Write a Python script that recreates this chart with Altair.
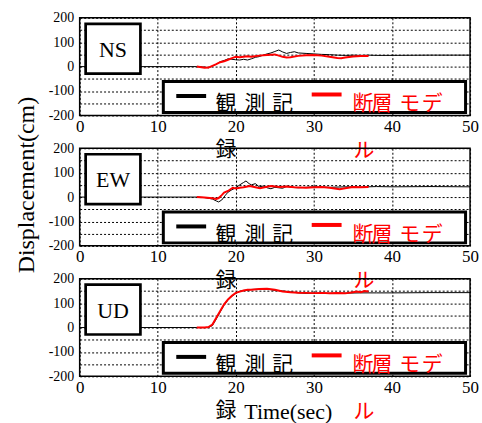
import altair as alt
import pandas as pd

components = ["NS", "EW", "UD"]
obs_label = "観測記録"
model_label = "断層モデル"
x_title = "Time(sec)"
y_title = "Displacement(cm)"
x_ticks = [0, 10, 20, 30, 40, 50]
y_ticks = [-200, -150, -100, -50, 0, 50, 100, 150, 200]

# NS
ns_obs_t = [0, 15, 16, 16.5, 17, 17.5, 18, 18.5, 19, 19.5, 20, 20.5, 21, 21.5, 22, 22.5, 23, 23.5, 24, 24.5,
            25, 25.5, 26, 26.5, 27, 27.5, 28, 29, 30, 31, 32, 33, 34, 35, 36, 37, 38, 40, 45, 50]
ns_obs_v = [0, 0, -2, -5, 2, 10, 20, 25, 32, 30, 28, 27, 30, 27, 32, 38, 41, 47, 52, 56,
            62, 68, 60, 54, 58, 61, 56, 54, 52, 50, 49, 47, 46, 47, 46, 47, 46, 46, 47, 47]
ns_mod_t = [15, 16, 16.5, 17, 17.5, 18, 18.5, 19, 19.5, 20, 20.5, 21, 21.5, 22, 23, 24, 25, 25.5, 26, 26.5,
            27, 28, 29, 30, 31, 32, 33, 33.5, 34, 35, 36, 37]
ns_mod_v = [0, -5, -4, 3, 10, 18, 22, 28, 35, 40, 38, 40, 42, 40, 45, 48, 50, 45, 40, 37,
            38, 44, 47, 48, 45, 40, 35, 34, 37, 41, 43, 43]

# EW
ew_obs_t = [0, 15, 16, 17, 17.5, 17.8, 18.2, 18.6, 19, 19.5, 20, 20.5, 21, 21.3, 21.7, 22, 22.5, 23, 23.5, 24,
            24.5, 25, 26, 26.5, 27, 28, 29, 30, 32, 34, 36, 38, 40, 45, 50]
ew_obs_v = [0, 0, -2, -8, -16, -20, -12, 5, 20, 30, 38, 50, 60, 66, 55, 50, 55, 42, 45, 38,
            34, 40, 36, 44, 40, 38, 40, 42, 40, 42, 41, 43, 42, 43, 42]
ew_mod_t = [15, 16, 17, 17.5, 17.8, 18.2, 18.5, 19, 19.6, 20, 20.5, 21, 21.8, 22.5, 23.1, 24, 24.5, 25.6, 26.5, 27.5,
            29, 30, 31, 32, 33.3, 34, 35, 36, 37]
ew_mod_v = [0, -2, -5, -8, -4, 8, 18, 25, 38, 35, 38, 40, 45, 40, 36, 42, 45, 41, 43, 40,
            38, 40, 41, 38, 32, 36, 41, 40, 41]

# UD
ud_obs_t = [0, 15, 16, 16.5, 17, 17.5, 18, 18.5, 19, 19.5, 20, 20.5, 21, 21.5, 22, 23, 24, 25, 26, 27,
            28, 29, 30, 32, 34, 36, 38, 40, 45, 50]
ud_obs_v = [0, 0, 0, 0, 8, 35, 64, 92, 113, 128, 140, 148, 152, 152, 156, 157, 158, 152, 150, 146,
            142, 140, 141, 140, 141, 142, 142, 142, 143, 143]
ud_mod_t = [15, 16, 16.5, 17, 17.5, 18, 18.5, 19, 19.5, 20, 20.5, 21, 21.5, 22, 23, 24, 25, 26, 27, 28,
            29, 30, 31, 32, 33, 34, 35, 35.5, 36, 36.5, 37]
ud_mod_v = [0, 0, 2, 12, 40, 68, 95, 115, 130, 142, 147, 152, 155, 155, 158, 159, 155, 148, 145, 143,
            142, 141, 142, 140, 141, 140, 145, 148, 145, 150, 148]

SERIF = "Liberation Serif"
CJK = "Noto Sans CJK JP"
RED = "#ff0000"
W, H = 392, 98
LEFT, TOP = 79, 16          # plot origin within the 482x423 page
PAGE_W, PAGE_H = 482, 423
one = pd.DataFrame({"k": [0]})

# horizontal placement (px, relative to plot left) of each legend glyph
obs_char_x = [147, 176, 204]
model_char_x = [284.5, 303.5, 331.5, 354]


def corner(x, y):
    # 1px white anchors fixing the page bounds
    return alt.Chart(one).mark_rect(fill="white", strokeWidth=0).encode(
        x=alt.value(x), x2=alt.value(x + 1), y=alt.value(y), y2=alt.value(y + 1))


def glyph(ch, x, y, color):
    return alt.Chart(one).mark_text(text=ch, font=CJK, fontSize=21, color=color,
                                    align="center", baseline="middle").encode(
        x=alt.value(x), y=alt.value(y))


def panel(idx, name, ot, ov, mt, mv):
    xaxis = dict(values=x_ticks, grid=True, gridColor="black", gridDash=[2, 2], gridWidth=1,
                 ticks=False, domain=False, labelFont=SERIF, labelFontSize=17, labelColor="black",
                 labelPadding=3, labelFlush=False, labelOverlap=False)
    if idx == 2:
        xaxis.update(title=x_title, titleFont=SERIF, titleFontSize=22, titleFontWeight="normal",
                     titleColor="black", titleX=209, titleY=42, titleAlign="center",
                     titleBaseline="alphabetic")
    else:
        xaxis["title"] = None
    yaxis = dict(values=y_ticks, grid=True, gridColor="black", gridDash=[2, 2], gridWidth=1,
                 ticks=False, domain=False, labelFont=SERIF, labelFontSize=14, labelColor="black",
                 labelPadding=6, labelOverlap=False, labelFlush=False,
                 labelExpr="datum.value % 100 === 0 ? '' + datum.value : ''")
    if idx == 1:
        yaxis.update(title=y_title, titleFont=SERIF, titleFontSize=24, titleFontWeight="normal",
                     titleColor="black", titleX=-46.5, titleY=36.5, titleAngle=270,
                     titleAlign="center", titleBaseline="alphabetic")
    else:
        yaxis["title"] = None

    xs = alt.Scale(domain=[0, 50], nice=False, zero=False)
    ys = alt.Scale(domain=[-200, 200], nice=False)

    obs = alt.Chart(pd.DataFrame({"t": ot, "v": ov})).mark_line(color="black", strokeWidth=1).encode(
        x=alt.X("t:Q", scale=xs, axis=alt.Axis(**xaxis)),
        y=alt.Y("v:Q", scale=ys, axis=alt.Axis(**yaxis)),
    )
    mod = alt.Chart(pd.DataFrame({"t": mt, "v": mv})).mark_line(color=RED, strokeWidth=2).encode(
        x=alt.X("t:Q", scale=xs, axis=alt.Axis(**xaxis)),
        y=alt.Y("v:Q", scale=ys, axis=alt.Axis(**yaxis)),
    )
    box = alt.Chart(one).mark_rect(fill="white", stroke="black", strokeWidth=2.7).encode(
        x=alt.value(6), x2=alt.value(61), y=alt.value(6), y2=alt.value(56))
    boxtext = alt.Chart(one).mark_text(text=name, font=SERIF, fontSize=22, color="black",
                                       align="center", baseline="middle").encode(
        x=alt.value(33.5), y=alt.value(32))
    legbox = alt.Chart(one).mark_rect(fill="white", stroke="black", strokeWidth=3).encode(
        x=alt.value(84), x2=alt.value(387.5), y=alt.value(64), y2=alt.value(95))
    l1 = alt.Chart(one).mark_rule(color="black", strokeWidth=4).encode(
        x=alt.value(97), x2=alt.value(127), y=alt.value(78.5))
    l2 = alt.Chart(one).mark_rule(color=RED, strokeWidth=4).encode(
        x=alt.value(233), x2=alt.value(263), y=alt.value(77))
    layers = [obs, mod, box, boxtext, legbox, l1, l2]
    for ch, x in zip(obs_label[:-1], obs_char_x):
        layers.append(glyph(ch, x, 87, "black"))
    for ch, x in zip(model_label[:-1], model_char_x):
        layers.append(glyph(ch, x, 87, RED))
    # last characters wrap onto the next line, below the panel
    layers.append(glyph(obs_label[-1], obs_char_x[0], 133, "black"))
    layers.append(glyph(model_label[-1], model_char_x[0] + 1, 133.5, RED))
    if idx == 0:
        layers += [corner(-LEFT, -TOP), corner(PAGE_W - LEFT - 1, PAGE_H - TOP - 1)]
    return alt.layer(*layers).properties(width=W, height=H)


series = [
    (ns_obs_t, ns_obs_v, ns_mod_t, ns_mod_v),
    (ew_obs_t, ew_obs_v, ew_mod_t, ew_mod_v),
    (ud_obs_t, ud_obs_v, ud_mod_t, ud_mod_v),
]
panels = [panel(i, components[i], *series[i]) for i in range(3)]

chart = alt.vconcat(*panels, spacing=33, bounds="flush").properties(
    padding=0,
    background="white",
).configure_view(stroke="black", strokeWidth=1.5)

chart.save("out.html", embed_options={"renderer": "svg", "actions": False})
